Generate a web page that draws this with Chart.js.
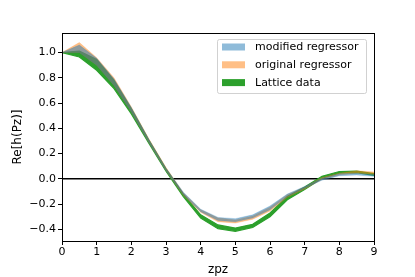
<!DOCTYPE html>
<html>
<head>
<meta charset="utf-8">
<script src="https://cdn.jsdelivr.net/npm/chart.js@4"></script>
<style>
  html, body { margin: 0; padding: 0; background: #fff; }
  #wrap { width: 415px; height: 277px; }
</style>
</head>
<body>
<div id="wrap"><canvas id="chart" width="415" height="277"></canvas></div>
<script>
// z values (zpz)
const zpz = [0, 0.5, 1, 1.5, 2, 2.5, 3, 3.5, 4, 4.5, 5, 5.5, 6, 6.5, 7, 7.5, 8, 8.5, 9];

// modified regressor band
const modifiedLow  = [1.0, 1.0, 0.9, 0.74, 0.53, 0.29, 0.065, -0.125, -0.26, -0.33, -0.34, -0.31, -0.245, -0.14, -0.075, -0.01, 0.025, 0.03, 0.02];
const modifiedHigh = [1.0, 1.06, 0.955, 0.79, 0.565, 0.315, 0.085, -0.105, -0.24, -0.305, -0.315, -0.285, -0.215, -0.12, -0.06, 0.005, 0.04, 0.045, 0.035];

// original regressor band
const originalLow  = [1.0, 1.0, 0.9, 0.74, 0.53, 0.29, 0.065, -0.13, -0.265, -0.34, -0.35, -0.32, -0.255, -0.145, -0.08, -0.005, 0.03, 0.045, 0.035];
const originalHigh = [1.0, 1.08, 0.96, 0.8, 0.57, 0.32, 0.09, -0.11, -0.245, -0.31, -0.325, -0.295, -0.225, -0.125, -0.065, 0.01, 0.045, 0.065, 0.055];

// lattice data band
const latticeLow  = [1.0, 0.965, 0.86, 0.715, 0.515, 0.285, 0.06, -0.14, -0.31, -0.395, -0.415, -0.385, -0.3, -0.165, -0.085, 0.005, 0.045, 0.05, 0.028];
const latticeHigh = [1.0, 1.012, 0.945, 0.78, 0.555, 0.31, 0.08, -0.12, -0.285, -0.365, -0.39, -0.36, -0.27, -0.14, -0.065, 0.02, 0.058, 0.062, 0.042];

const yTicks = [-0.4, -0.2, 0.0, 0.2, 0.4, 0.6, 0.8, 1.0];
const xTicks = [0, 1, 2, 3, 4, 5, 6, 7, 8, 9];

const legendItems = [
  { label: 'modified regressor', color: 'rgba(31,119,180,0.5)' },
  { label: 'original regressor', color: 'rgba(255,127,14,0.5)' },
  { label: 'Lattice data', color: '#2ca02c' }
];

const FONT = "'DejaVu Sans', sans-serif";

function pts(ys) {
  return zpz.map((x, i) => ({ x: x, y: ys[i] }));
}

function band(low, high, color, name, edge) {
  return [
    { label: name + ' low', data: pts(low), borderColor: color, backgroundColor: color,
      borderWidth: edge, pointRadius: 0, fill: false, tension: 0 },
    { label: name, data: pts(high), borderColor: color, backgroundColor: color,
      borderWidth: edge, pointRadius: 0, fill: '-1', tension: 0 }
  ];
}

// frame + legend drawn on top
const framePlugin = {
  id: 'frame',
  afterDraw(chart) {
    const { ctx, chartArea: a } = chart;
    ctx.save();
    ctx.strokeStyle = '#000';
    ctx.lineWidth = 1;
    ctx.strokeRect(Math.round(a.left) + 0.5, Math.round(a.top) + 0.5,
      Math.round(a.right - a.left), Math.round(a.bottom - a.top));

    // legend box
    const bx = 217.5, by = 39.5, bw = 149, bh = 54;
    ctx.fillStyle = 'rgba(255,255,255,0.8)';
    ctx.strokeStyle = 'rgba(204,204,204,0.9)';
    ctx.beginPath();
    ctx.roundRect(bx, by, bw, bh, 2);
    ctx.fill();
    ctx.stroke();
    ctx.font = '11px ' + FONT;
    ctx.textBaseline = 'middle';
    legendItems.forEach((item, i) => {
      const cy = 47 + i * 17.8;
      ctx.fillStyle = item.color;
      ctx.fillRect(222, cy - 3.5, 23, 7);
      ctx.fillStyle = '#000';
      ctx.fillText(item.label, 255, cy + 0.5);
    });
    ctx.restore();
  }
};

const datasets = [
  ...band(modifiedLow, modifiedHigh, 'rgba(31,119,180,0.5)', 'modified regressor', 0.4),
  ...band(originalLow, originalHigh, 'rgba(255,127,14,0.5)', 'original regressor', 0.4),
  ...band(latticeLow, latticeHigh, '#2ca02c', 'Lattice data', 1.2),
  { label: 'zero', data: [{ x: 0, y: 0 }, { x: 9, y: 0 }], borderColor: '#000',
    borderWidth: 1.5, pointRadius: 0, fill: false }
];

new Chart(document.getElementById('chart'), {
  type: 'line',
  data: { datasets: datasets },
  options: {
    responsive: false,
    animation: false,
    devicePixelRatio: 1,
    layout: { padding: { left: 11, top: 33, right: 41, bottom: 0 } },
    plugins: { legend: { display: false }, tooltip: { enabled: false } },
    scales: {
      x: {
        type: 'linear', min: 0, max: 9,
        afterFit(scale) { scale.height = 36; },
        afterBuildTicks(scale) { scale.ticks = xTicks.map(v => ({ value: v })); },
        border: { display: false },
        grid: { drawOnChartArea: false, tickLength: 4, color: '#000', tickWidth: 1 },
        ticks: { color: '#000', font: { family: FONT, size: 11 }, padding: 1, maxRotation: 0 },
        title: { display: true, text: 'zpz', color: '#000', font: { family: FONT, size: 12 }, padding: { top: 0, bottom: 0 } }
      },
      y: {
        type: 'linear', min: -0.492, max: 1.155,
        afterFit(scale) { scale.width = 51; },
        afterBuildTicks(scale) { scale.ticks = yTicks.map(v => ({ value: v })); },
        border: { display: false },
        grid: { drawOnChartArea: false, tickLength: 4, color: '#000', tickWidth: 1 },
        ticks: {
          color: '#000', font: { family: FONT, size: 11 }, padding: 2,
          callback: v => (v < 0 ? '\u2212' : '') + Math.abs(v).toFixed(1)
        },
        title: { display: true, text: 'Re[h(Pz)]', color: '#000', font: { family: FONT, size: 12 }, padding: { top: 0, bottom: 4 } }
      }
    }
  },
  plugins: [framePlugin]
});
</script>
</body>
</html>
